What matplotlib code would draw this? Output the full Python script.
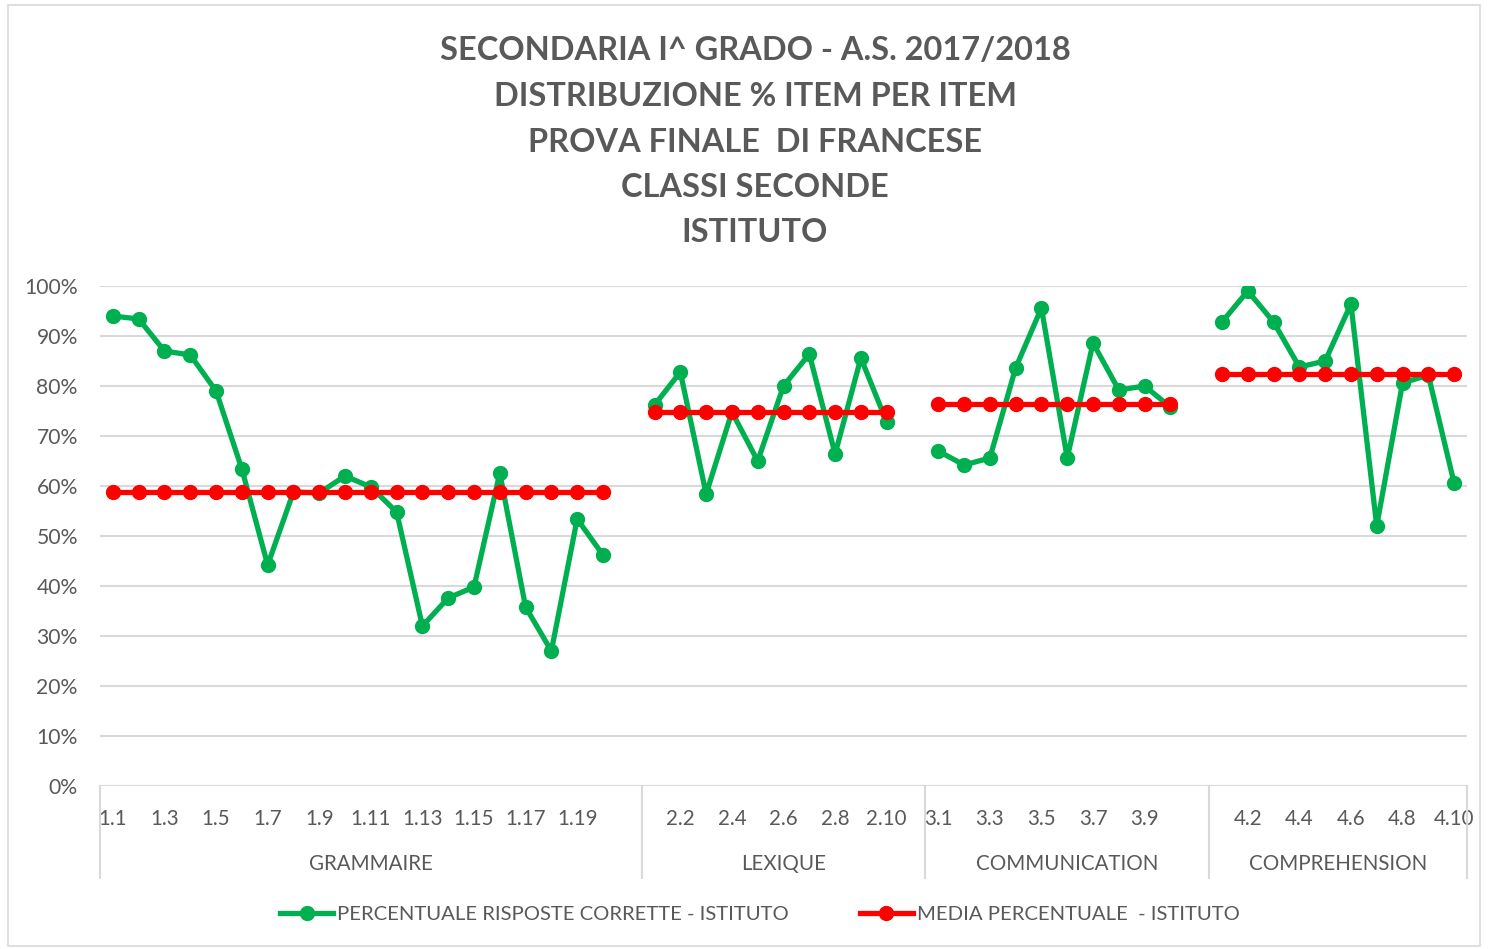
import matplotlib
matplotlib.use("Agg")
import matplotlib.pyplot as plt
from matplotlib.lines import Line2D
from matplotlib.patches import Rectangle
import numpy as np

plt.rcParams['font.family'] = ['Lato', 'DejaVu Sans']

title_lines = ["SECONDARIA I^ GRADO - A.S. 2017/2018",
               "DISTRIBUZIONE % ITEM PER ITEM",
               "PROVA FINALE  DI FRANCESE",
               "CLASSI SECONDE",
               "ISTITUTO"]

groups = ["GRAMMAIRE", "LEXIQUE", "COMMUNICATION", "COMPREHENSION"]
group_sizes = [21, 11, 11, 10]  # category slots incl. blank slot
items_gram = ["1.%d" % i for i in range(1, 21)] + [""]
items_lex = ["2.%d" % i for i in range(1, 11)] + [""]
items_com = ["3.%d" % i for i in range(1, 11)] + [""]
items_comp = ["4.%d" % i for i in range(1, 11)]

val_gram = [94.0, 93.4, 87.0, 86.2, 79.0, 63.4, 44.2, 58.8, 58.6, 62.0,
            59.8, 54.8, 32.0, 37.6, 39.8, 62.6, 35.8, 27.0, 53.4, 46.2]
val_lex = [76.2, 82.8, 58.4, 74.8, 65.0, 80.0, 86.4, 66.4, 85.6, 72.8]
val_com = [67.0, 64.2, 65.6, 83.6, 95.6, 65.6, 88.6, 79.2, 80.0, 75.8]
val_comp = [92.8, 99.0, 92.8, 83.8, 85.0, 96.4, 52.0, 80.6, 82.2, 60.6]

mean_vals = [58.8, 74.8, 76.5, 82.5]

series_vals = [val_gram, val_lex, val_com, val_comp]
all_items = items_gram + items_lex + items_com + items_comp

GREEN = "#00B050"
RED = "#FF0000"
TXT = "#595959"
GRID = "#D9D9D9"

fig = plt.figure(figsize=(14.89, 9.49), dpi=100)
fig.patches.append(Rectangle((8/1489, 1-946/949), 1472/1489, 941/949,
                             transform=fig.transFigure, fill=False,
                             edgecolor=GRID, linewidth=1.2))

ax = fig.add_axes([100/1489, 1-786/949, 1367/1489, 500/949])
n = len(all_items)
ax.set_xlim(-0.5, n - 0.5)
ax.set_ylim(0, 1)

starts = np.cumsum([0] + group_sizes[:-1])
for g, (st, vals, m) in enumerate(zip(starts, series_vals, mean_vals)):
    xs = st + np.arange(len(vals))
    ax.plot(xs, np.array(vals) / 100, color=GREEN, lw=3.8, marker='o',
            ms=10, zorder=3, solid_joinstyle='round')
    ax.plot(xs, np.full(len(vals), m / 100), color=RED, lw=3.8, marker='o',
            ms=10, zorder=4)

# y axis
ax.set_yticks(np.arange(0, 1.01, 0.1))
ax.set_yticklabels(["%d%%" % v for v in range(0, 101, 10)])
ax.yaxis.grid(True, color=GRID, lw=1.5)
ax.set_axisbelow(True)
ax.tick_params(axis='y', length=0, labelsize=15.2, labelcolor=TXT, pad=16)
for s in ax.spines.values():
    s.set_visible(False)

# x axis labels
ax.set_xticks(np.arange(n))
ax.set_xticklabels([lab if i % 2 == 0 else "" for i, lab in enumerate(all_items)])
ax.tick_params(axis='x', length=0, labelsize=14.8, labelcolor=TXT, pad=16.5)

# separators and group labels
bounds = list(starts - 0.5) + [n - 0.5]
for b in bounds:
    ax.plot([b, b], [0, -92/500], transform=ax.get_xaxis_transform(),
            color=GRID, lw=1.5, clip_on=False)
for g, st, sz in zip(groups, starts, group_sizes):
    ax.text(st + sz / 2 - 0.5, -78/500, g, transform=ax.get_xaxis_transform(),
            ha='center', va='center', fontsize=14.8, color=TXT)

# title
for i, line in enumerate(title_lines):
    fig.text(755/1489, 1 - (51 + i * 45.5)/949, line, ha='center', va='center',
             fontsize=23.4, fontweight='bold', color=TXT)

handles = [Line2D([], [], color=GREEN, lw=3.8, marker='o', ms=10),
           Line2D([], [], color=RED, lw=3.8, marker='o', ms=10)]
labels = ["PERCENTUALE RISPOSTE CORRETTE - ISTITUTO", "MEDIA PERCENTUALE  - ISTITUTO"]
fig.legend(handles, labels, loc='center', bbox_to_anchor=(760/1489, 1 - 914/949),
           ncol=2, frameon=False, fontsize=14.6, labelcolor=TXT,
           handlelength=2.6, handletextpad=0.2, columnspacing=3.5)

fig.savefig("out.png", dpi=100)
